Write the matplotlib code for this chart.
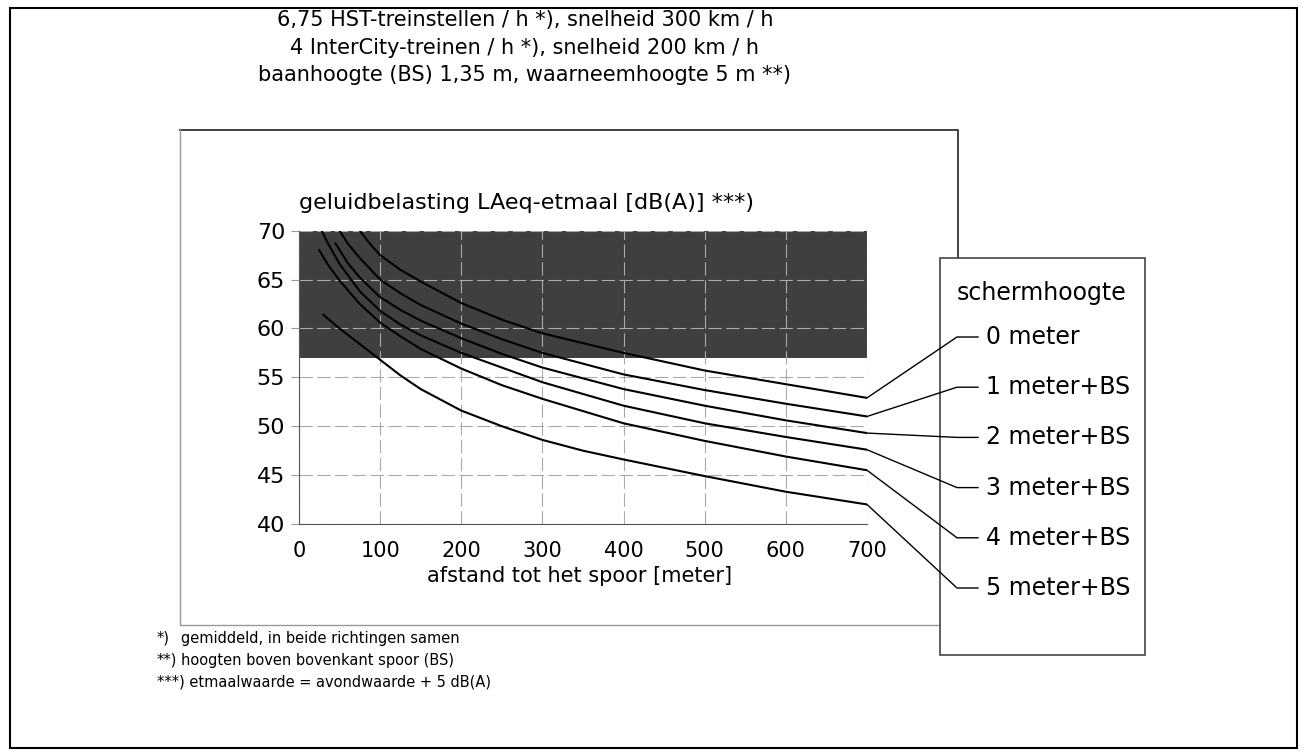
import numpy as np
import matplotlib.pyplot as plt
from matplotlib.lines import Line2D
from matplotlib.patches import Rectangle

# afstand tot het spoor [m] en geluidbelasting [dB(A)] per schermhoogte
x_0m = [75, 85, 100, 125, 150, 200, 250, 300, 400, 500, 600, 700]
y_0m = [70, 68.9, 67.5, 66.0, 64.8, 62.6, 60.9, 59.5, 57.5, 55.7, 54.3, 52.9]
x_1m = [50, 60, 75, 100, 125, 150, 200, 250, 300, 400, 500, 600, 700]
y_1m = [70, 68.7, 67.2, 65.0, 63.6, 62.4, 60.5, 58.9, 57.5, 55.3, 53.7, 52.3, 51.0]
x_2m = [45, 60, 75, 100, 125, 150, 200, 250, 300, 400, 500, 600, 700]
y_2m = [68.7, 66.7, 65.2, 63.2, 61.9, 60.8, 59.0, 57.4, 56.0, 53.8, 52.1, 50.6, 49.3]
x_3m = [28, 35, 50, 75, 100, 125, 150, 200, 250, 300, 400, 500, 600, 700]
y_3m = [70, 68.8, 66.6, 63.8, 61.8, 60.4, 59.3, 57.5, 56.0, 54.5, 52.1, 50.3, 48.9, 47.6]
x_4m = [25, 35, 50, 75, 100, 125, 150, 200, 250, 300, 400, 500, 600, 700]
y_4m = [68, 66.6, 64.9, 62.5, 60.6, 59.2, 57.9, 55.9, 54.2, 52.8, 50.3, 48.5, 46.9, 45.5]
x_5m = [30, 40, 50, 75, 100, 125, 150, 200, 250, 300, 350, 400, 500, 600, 700]
y_5m = [61.4, 60.7, 60.0, 58.4, 56.8, 55.2, 53.8, 51.6, 50.0, 48.6, 47.5, 46.6, 44.9, 43.3, 42.0]

labels = ['0 meter', '1 meter+BS', '2 meter+BS', '3 meter+BS', '4 meter+BS', '5 meter+BS']
xs = [x_0m, x_1m, x_2m, x_3m, x_4m, x_5m]
ys = [y_0m, y_1m, y_2m, y_3m, y_4m, y_5m]

grens = 57  # donker gebied boven deze waarde
xticks = [0, 100, 200, 300, 400, 500, 600, 700]
yticks = [40, 45, 50, 55, 60, 65, 70]

title_lines = ['6,75 HST-treinstellen / h *), snelheid 300 km / h',
               '4 InterCity-treinen / h *), snelheid 200 km / h',
               'baanhoogte (BS) 1,35 m, waarneemhoogte 5 m **)']
noten = [('*)', 'gemiddeld, in beide richtingen samen'),
         ('**)', 'hoogten boven bovenkant spoor (BS)'),
         ('***)', 'etmaalwaarde = avondwaarde + 5 dB(A)')]

W, H = 1307, 756
fig = plt.figure(figsize=(W / 100, H / 100), dpi=100)

def fx(px):
    return px / W

def fy(py):
    return 1 - py / H

ax = fig.add_axes([fx(299), fy(524), fx(867) - fx(299), fy(230.7) - fy(524)])
ax.set_xlim(0, 700)
ax.set_ylim(40, 70)
ax.axhspan(grens, 70, color='#3f3f3f', zorder=1, lw=0)
ax.set_xticks(xticks)
ax.set_yticks(yticks)
ax.grid(True, color='#aaaaaa', lw=0.8, ls=(0, (12, 4)), zorder=2)
ax.set_axisbelow(False)
for s in ['top', 'right']:
    ax.spines[s].set_visible(False)
for s in ['left', 'bottom']:
    ax.spines[s].set_color('#555555')
    ax.spines[s].set_zorder(3)
ax.tick_params(axis='x', length=0, pad=12, labelsize=15)
ax.tick_params(axis='y', length=6, color='#999999', pad=4, labelsize=16)

for x, y in zip(xs, ys):
    ax.plot(x, y, color='black', lw=1.5, zorder=4, solid_joinstyle='round')

ax.text(0, 1.06, 'geluidbelasting LAeq-etmaal [dB(A)] ***)', transform=ax.transAxes,
        fontsize=16, ha='left', va='bottom')
fig.text(fx(580), fy(576), 'afstand tot het spoor [meter]', fontsize=15, ha='center', va='center')

# titel
for i, t in enumerate(title_lines):
    fig.text(fx(525), fy(20 + 27.5 * i), t, fontsize=15, ha='center', va='center')

# kaders
fig.add_artist(Rectangle((fx(10), fy(748)), fx(1297) - fx(10), fy(8) - fy(748),
                         transform=fig.transFigure, fill=False, ec='black', lw=1.5))
fig.add_artist(Line2D([fx(180), fx(958), fx(958)], [fy(130), fy(130), fy(258)],
                      transform=fig.transFigure, color='#333333', lw=1.3))
fig.add_artist(Line2D([fx(180), fx(180), fx(940)], [fy(130), fy(625), fy(625)],
                      transform=fig.transFigure, color='#999999', lw=1.0))
fig.add_artist(Rectangle((fx(940), fy(655)), fx(1145) - fx(940), fy(258) - fy(655),
                         transform=fig.transFigure, fc='white', ec='#444444', lw=1.2, zorder=5))

# legenda met verwijslijnen
fig.text(fx(1042), fy(293), 'schermhoogte', fontsize=17, ha='center', va='center', zorder=6)
fig.canvas.draw()
inv = fig.transFigure.inverted()
for i, (lab, y) in enumerate(zip(labels, ys)):
    ly = 337 + 50.2 * i
    ex, ey = inv.transform(ax.transData.transform((700, y[-1])))
    fig.add_artist(Line2D([ex, fx(957), fx(978)], [ey, fy(ly), fy(ly)],
                          transform=fig.transFigure, color='black', lw=1.0, zorder=6))
    fig.text(fx(986), fy(ly), lab, fontsize=17, ha='left', va='center', zorder=6)

# voetnoten
for i, (m, t) in enumerate(noten):
    py = 638 + 22 * i
    if i < 2:
        fig.text(fx(157), fy(py), m, fontsize=10.5, ha='left', va='center')
        fig.text(fx(181), fy(py), t, fontsize=10.5, ha='left', va='center')
    else:
        fig.text(fx(157), fy(py), m + ' ' + t, fontsize=10.5, ha='left', va='center')

fig.savefig('out.png', dpi=100)
